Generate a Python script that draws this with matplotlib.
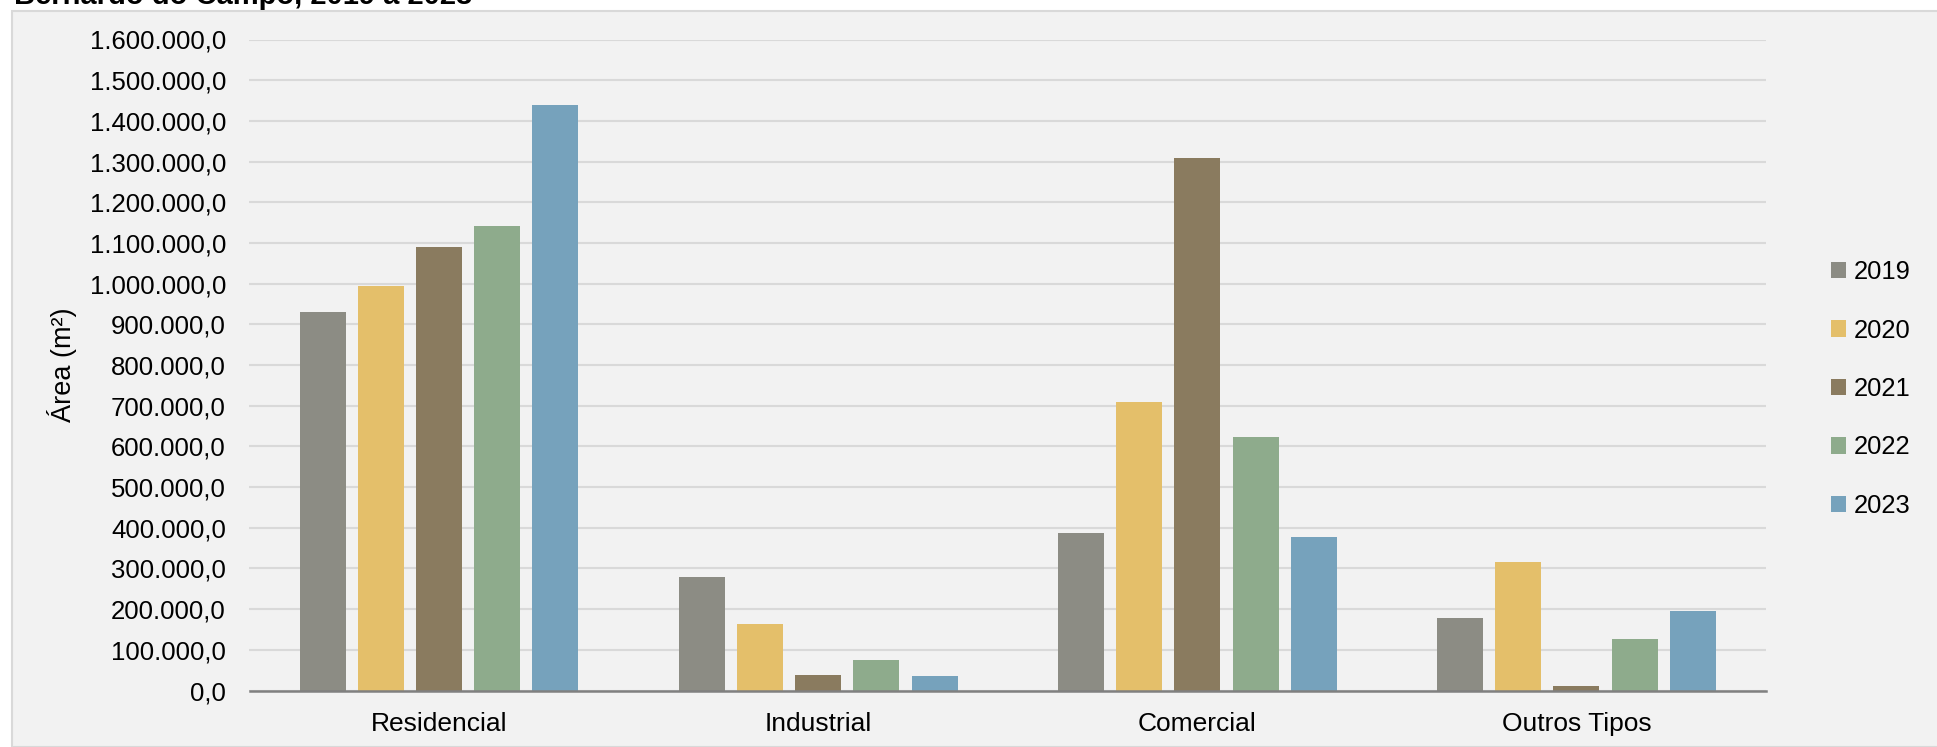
import matplotlib.pyplot as plt
import numpy as np
from matplotlib.patches import Patch, Rectangle
from matplotlib.ticker import FuncFormatter, MultipleLocator

categories = ["Residencial", "Industrial", "Comercial", "Outros Tipos"]
years = ["2019", "2020", "2021", "2022", "2023"]
area_2019 = [930000, 279000, 386000, 177000]
area_2020 = [995000, 163000, 710000, 315000]
area_2021 = [1090000, 37000, 1308000, 11000]
area_2022 = [1141000, 74000, 622000, 127000]
area_2023 = [1439000, 36000, 377000, 196000]
series = [area_2019, area_2020, area_2021, area_2022, area_2023]
colors = ["#8c8c84", "#e4bf6a", "#8a7b5f", "#8eab8c", "#76a2bc"]

title = "Bernardo do Campo, 2019 a 2023"

plt.rcParams["font.family"] = ["Liberation Sans", "DejaVu Sans"]


def br_format(v, pos):
    s = f"{v:,.1f}"
    return s.replace(",", "X").replace(".", ",").replace("X", ".")


fig = plt.figure(figsize=(19.37, 7.47), dpi=100)
fig.patch.set_facecolor("white")

# gray panel behind the chart
W, H = 1937, 747
panel = Rectangle((12 / W, 0), 1, 1 - 11 / H, transform=fig.transFigure,
                  facecolor="#f2f2f2", edgecolor="#d9d9d9", linewidth=1.5, zorder=-10)
fig.patches.append(panel)
fig.text(14 / W, 1 - 4.5 / H, title, fontsize=21, fontweight="bold",
         va="baseline", ha="left")

ax = fig.add_axes([249.5 / W, 1 - 690.5 / H, (1766 - 249.5) / W, (690.5 - 39.5) / H])
ax.set_facecolor("none")

x = np.arange(len(categories))
step = 0.1535
width = 0.1213
for j, (vals, year) in enumerate(zip(series, years)):
    ax.bar(x + (j - 2) * step, vals, width=width, color=colors[j], label=year, zorder=3)

ax.set_xlim(-0.5, len(categories) - 0.5)
ax.set_ylim(0, 1600000)
ax.yaxis.set_major_locator(MultipleLocator(100000))
ax.yaxis.set_major_formatter(FuncFormatter(br_format))
ax.grid(axis="y", color="#d9d9d9", linewidth=1.5, zorder=0)
ax.set_xticks(x)
ax.set_xticklabels(categories)
ax.tick_params(axis="both", length=0)
ax.tick_params(axis="y", pad=17, labelsize=18.5)
ax.tick_params(axis="x", pad=15.5, labelsize=19)
for side in ["top", "right", "left"]:
    ax.spines[side].set_visible(False)
ax.spines["bottom"].set_color("#808080")
ax.spines["bottom"].set_linewidth(1.8)
ax.spines["bottom"].set_zorder(4)

fig.text(62 / W, 0.5 + (747 / 2 - 365) / H, "Área (m²)", rotation=90,
         fontsize=19.5, ha="center", va="center")

handles = [Patch(facecolor=c, label=y) for c, y in zip(colors, years)]
fig.legend(handles=handles, loc="center left", bbox_to_anchor=(1808 / W, 1 - 389 / H),
           frameon=False, fontsize=18.4, handlelength=0.6, handleheight=0.6,
           handletextpad=0.3, labelspacing=1.35)

fig.savefig("out.png", dpi=100, facecolor=fig.get_facecolor())
